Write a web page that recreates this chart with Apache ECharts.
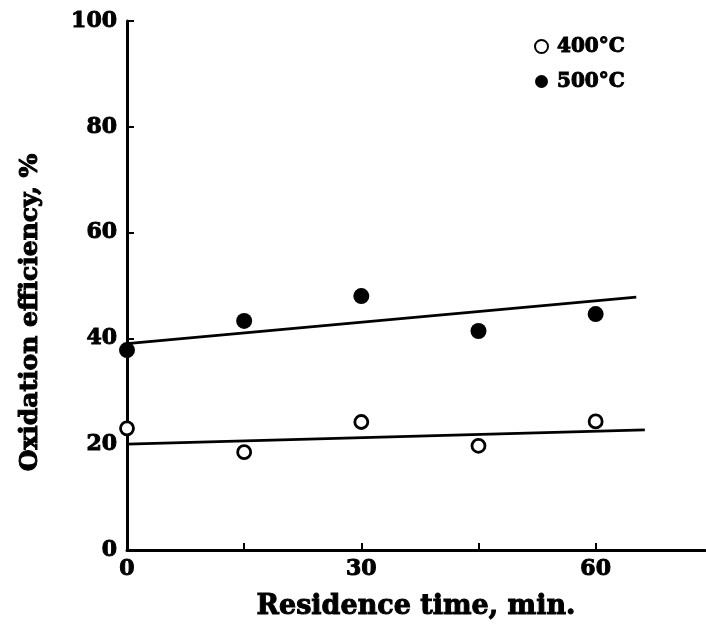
<!DOCTYPE html>
<html>
<head>
<meta charset="utf-8">
<script src="https://cdn.jsdelivr.net/npm/echarts@6/dist/echarts.min.js"></script>
<style>html,body{margin:0;padding:0;background:#fff}#c{width:706px;height:632px}</style>
</head>
<body>
<div id="c"></div>
<script>
const times = [0, 15, 30, 45, 60];
const eff400 = [23.0, 18.5, 24.2, 19.7, 24.3];
const eff500 = [37.8, 43.3, 48.0, 41.4, 44.6];
const fit400X = [0, 66.3];
const fit400Y = [20.0, 22.7];
const fit500X = [0, 65.2];
const fit500Y = [39.0, 47.8];
const seriesNames = ['400°C', '500°C'];
const xTickLabels = [0, 30, 60];
const yTickLabels = [0, 20, 40, 60, 80, 100];

const font = '"DejaVu Serif", serif';
const heavy = {fontFamily: font, fontWeight: 'bold', color: '#000', textBorderColor: '#000', textBorderWidth: 1};
const chart = echarts.init(document.getElementById('c'), null, {renderer: 'canvas'});
const pts = (xs, ys) => xs.map((x, i) => [x, ys[i]]);
chart.setOption({
  animation: false,
  backgroundColor: '#fff',
  grid: {left: 127, right: 1, top: 21, bottom: 82},
  legend: {
    left: 529, top: 31, orient: 'vertical', itemGap: 14, itemWidth: 13, itemHeight: 13,
    data: seriesNames,
    textStyle: Object.assign({fontSize: 20, padding: [0, 0, 0, 4]}, heavy)
  },
  xAxis: {
    type: 'value', min: 0, max: 74, interval: 15,
    name: 'Residence time, min.', nameLocation: 'middle', nameGap: 43,
    nameTextStyle: Object.assign({fontSize: 27}, heavy),
    axisLine: {lineStyle: {color: '#000', width: 3}},
    axisTick: {inside: true, length: 7, lineStyle: {color: '#000', width: 2}},
    splitLine: {show: false},
    axisLabel: Object.assign({
      margin: 8, fontSize: 22,
      formatter: v => xTickLabels.includes(v) ? String(v) : '', showMaxLabel: false
    }, heavy)
  },
  yAxis: {
    type: 'value', min: 0, max: 100, interval: 20,
    name: 'Oxidation efficiency, %', nameLocation: 'middle', nameGap: 84,
    nameTextStyle: Object.assign({fontSize: 25, padding: [0, 54, 0, 0]}, heavy),
    axisLine: {lineStyle: {color: '#000', width: 3}},
    axisTick: {inside: true, length: 7, lineStyle: {color: '#000', width: 2}},
    splitLine: {show: false},
    axisLabel: Object.assign({
      margin: 10, fontSize: 22,
      formatter: v => yTickLabels.includes(v) ? String(v) : ''
    }, heavy)
  },
  series: [
    {
      name: seriesNames[0], type: 'scatter', data: pts(times, eff400),
      symbol: 'circle', symbolSize: 13,
      itemStyle: {color: '#fff', borderColor: '#000', borderWidth: 2.8, opacity: 1}, z: 5
    },
    {
      name: seriesNames[1], type: 'scatter', data: pts(times, eff500),
      symbol: 'circle', symbolSize: 16,
      itemStyle: {color: '#000', opacity: 1}, z: 5
    },
    {
      type: 'line', data: pts(fit400X, fit400Y), symbol: 'none',
      lineStyle: {color: '#000', width: 2.8}, z: 3
    },
    {
      type: 'line', data: pts(fit500X, fit500Y), symbol: 'none',
      lineStyle: {color: '#000', width: 2.8}, z: 3
    }
  ]
});
</script>
</body>
</html>
